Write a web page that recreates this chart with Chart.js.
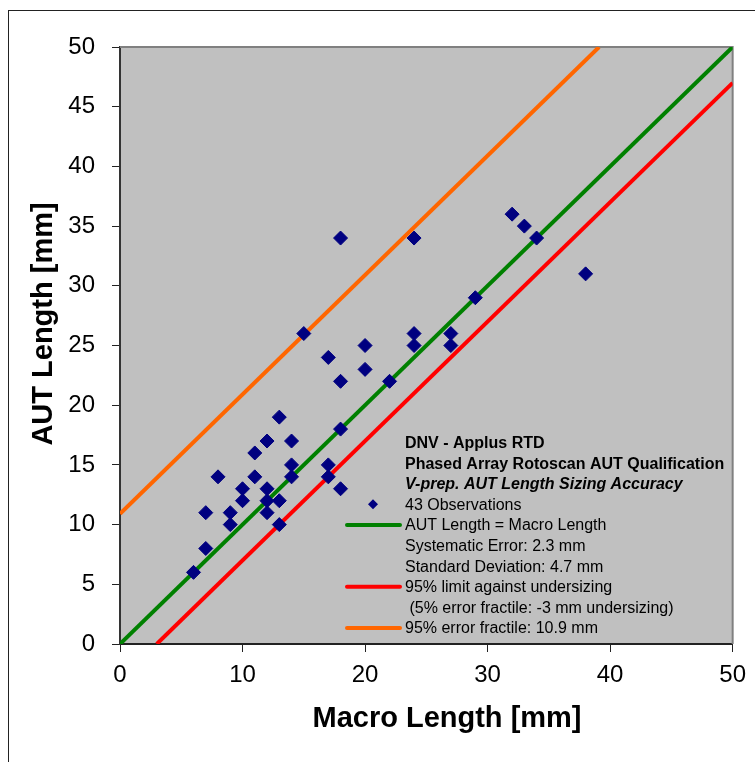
<!DOCTYPE html>
<html><head><meta charset="utf-8">
<script src="https://cdn.jsdelivr.net/npm/chart.js@4/dist/chart.umd.min.js"></script>
<style>html,body{margin:0;padding:0;background:#fff}canvas{display:block}</style>
</head><body>
<canvas id="c" width="755" height="762" style="width:755px;height:762px"></canvas>
<script>
// Observations
const macroLength = [6,7,7,8,9,9,10,10,11,11,12,12,12,12,13,13,13,14,14,14,15,17,17,17,18,18,18,18,20,20,22,24,24,24,27,27,29,32,33,34,38];
const autLength   = [6,8,11,14,10,11,12,13,14,16,11,12,13,17,10,12,19,14,15,17,26,14,15,24,13,18,22,34,23,25,22,25,26,34,25,26,29,36,35,34,31];
// Reference lines (end points)
const unityX = [0, 50],      unityY = [0, 50];
const underX = [3, 50],      underY = [0, 47];
const fractX = [0, 39.1],    fractY = [10.9, 50];
// Axis ticks
const xTicks = [0,10,20,30,40,50];
const yTicks = [0,5,10,15,20,25,30,35,40,45,50];
const xTitle = 'Macro Length [mm]';
const yTitle = 'AUT Length [mm]';
const legendLines = [
  ['DNV - Applus RTD', 'bold', null],
  ['Phased Array Rotoscan AUT Qualification', 'bold', null],
  ['V-prep. AUT Length Sizing Accuracy', 'italic bold', null],
  ['43 Observations', '', 'point'],
  ['AUT Length = Macro Length', '', '#008000'],
  ['Systematic Error: 2.3 mm', '', null],
  ['Standard Deviation: 4.7 mm', '', null],
  ['95% limit against undersizing', '', '#FF0000'],
  [' (5% error fractile: -3 mm undersizing)', '', null],
  ['95% error fractile: 10.9 mm', '', '#FF6600']
];

const FONT = '"Liberation Sans", Arial, sans-serif';
const pts = (xs, ys) => xs.map((x, i) => ({x, y: ys[i]}));

const deco = {
  id: 'deco',
  beforeDraw(chart) {
    const {ctx, chartArea: a} = chart;
    ctx.save();
    ctx.fillStyle = '#fff';
    ctx.fillRect(0, 0, chart.width, chart.height);
    ctx.fillStyle = '#C0C0C0';
    ctx.fillRect(a.left, a.top, a.right - a.left, a.bottom - a.top);
    ctx.restore();
  },
  beforeDatasetsDraw(chart) {
    const {ctx, chartArea: a} = chart;
    ctx.save();
    ctx.strokeStyle = '#808080';
    ctx.lineWidth = 2;
    ctx.beginPath();
    ctx.moveTo(a.left, a.top);
    ctx.lineTo(a.right, a.top);
    ctx.lineTo(a.right, a.bottom);
    ctx.stroke();
    ctx.restore();
  },
  afterDraw(chart) {
    const {ctx} = chart;
    ctx.save();
    // outer frame
    ctx.strokeStyle = '#222';
    ctx.lineWidth = 1;
    ctx.strokeRect(8.5, 10.5, 800, 800);
    // axis titles
    ctx.fillStyle = '#000';
    ctx.font = 'bold 29px ' + FONT;
    ctx.textAlign = 'center';
    ctx.textBaseline = 'alphabetic';
    ctx.fillText(xTitle, 447, 727);
    ctx.save();
    ctx.translate(52, 324);
    ctx.rotate(-Math.PI / 2);
    ctx.fillText(yTitle, 0, 0);
    ctx.restore();
    // legend
    ctx.textAlign = 'left';
    legendLines.forEach((l, i) => {
      const base = 448 + i * 20.6;
      ctx.font = (l[1] ? l[1] + ' ' : '') + '16px ' + FONT;
      ctx.fillStyle = '#000';
      ctx.fillText(l[0], 405, base);
      const my = base - 5.5;
      if (l[2] === 'point') {
        ctx.fillStyle = '#000080';
        ctx.beginPath();
        ctx.moveTo(373 - 5, my); ctx.lineTo(373, my - 5);
        ctx.lineTo(373 + 5, my); ctx.lineTo(373, my + 5);
        ctx.closePath(); ctx.fill();
      } else if (l[2]) {
        ctx.strokeStyle = l[2];
        ctx.lineWidth = 4;
        ctx.lineCap = 'round';
        ctx.beginPath();
        ctx.moveTo(347, my); ctx.lineTo(400, my);
        ctx.stroke();
      }
    });
    ctx.restore();
  }
};

const lineDs = (xs, ys, color) => ({
  data: pts(xs, ys), showLine: true, borderColor: color, backgroundColor: color,
  borderWidth: 4, pointRadius: 0, fill: false, tension: 0
});

new Chart(document.getElementById('c'), {
  type: 'scatter',
  data: {
    datasets: [
      { data: pts(macroLength, autLength), pointStyle: 'rectRot', pointRadius: 7,
        backgroundColor: '#000080', borderColor: '#000080', borderWidth: 1 },
      lineDs(unityX, unityY, '#008000'),
      lineDs(underX, underY, '#FF0000'),
      lineDs(fractX, fractY, '#FF6600')
    ]
  },
  options: {
    responsive: false, animation: false, devicePixelRatio: 1,
    layout: { padding: { left: 0, top: 47, right: 22, bottom: 0 } },
    plugins: { legend: { display: false }, tooltip: { enabled: false } },
    scales: {
      x: {
        type: 'linear', min: 0, max: 50,
        afterFit(s) { s.height = 118; },
        afterBuildTicks(s) { s.ticks = xTicks.map(v => ({value: v})); },
        ticks: { font: { size: 24, family: FONT }, color: '#000', padding: 9, maxRotation: 0 },
        grid: { drawOnChartArea: false, tickLength: 8, color: '#222', lineWidth: 1 },
        border: { color: '#222', width: 2 }
      },
      y: {
        type: 'linear', min: 0, max: 50,
        afterFit(s) { s.width = 120; },
        afterBuildTicks(s) { s.ticks = yTicks.map(v => ({value: v})); },
        ticks: { font: { size: 24, family: FONT }, color: '#000', padding: 17 },
        grid: { drawOnChartArea: false, tickLength: 8, color: '#222', lineWidth: 1 },
        border: { color: '#333', width: 2 }
      }
    }
  },
  plugins: [deco]
});
</script>
</body></html>
